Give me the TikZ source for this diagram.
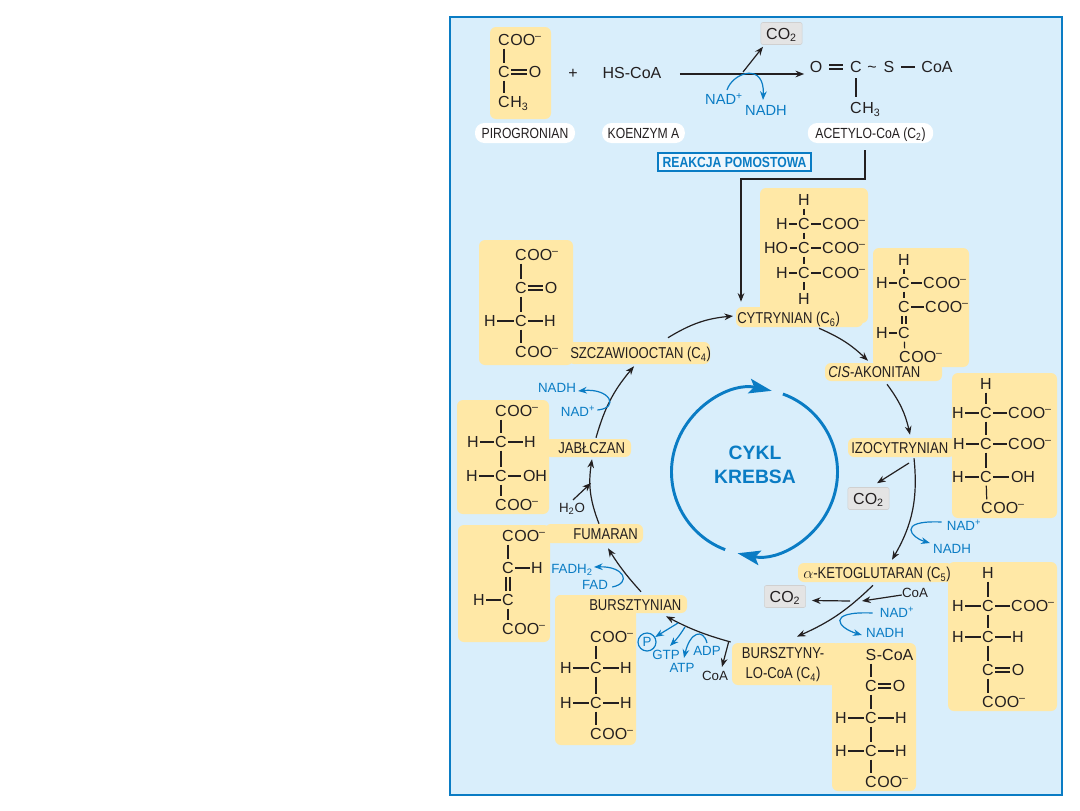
\documentclass[tikz,border=0pt]{standalone}
\usepackage{fontspec}
\setmainfont{Liberation Sans}
\newfontfamily\labelfont[FakeStretch=0.83]{Liberation Sans}
\usetikzlibrary{arrows.meta,calc}
\definecolor{panelblue}{RGB}{217,238,251}
\definecolor{krebsblue}{RGB}{10,124,196}
\definecolor{paleyellow}{RGB}{255,232,166}
\definecolor{inkblack}{RGB}{35,31,32}
\definecolor{boxgrey}{RGB}{228,228,228}
\definecolor{edgegrey}{RGB}{208,208,208}
\tikzset{
  panel/.style={fill=panelblue,draw=krebsblue,line width=1.5pt},
  yellowbox/.style={fill=paleyellow,rounded corners=4.5pt},
  atom/.style={font=\fontsize{12}{14}\selectfont,text=inkblack,inner xsep=1pt,inner ysep=2pt,
    text height=8.6pt,text depth=0pt},
  atomtail/.style={atom,anchor=west,inner xsep=0pt},
  bond/.style={draw=inkblack,line width=.9pt},
  heavybond/.style={draw=inkblack,line width=1.5pt},
  dbond/.style={draw=inkblack,line width=1.1pt,double=paleyellow,double distance=1.8pt},
  metabolite/.style={font=\labelfont\fontsize{11.8}{15}\selectfont,text=inkblack,anchor=west,inner sep=0pt,
    text height=8.4pt,text depth=0pt,minimum height=12pt},
  namepill/.style={font=\labelfont\fontsize{11}{13}\selectfont,text=inkblack,fill=white,rounded corners=7pt,
    inner sep=0pt,text height=8pt,text depth=0pt,minimum height=15pt},
  cofactor/.style={font=\fontsize{10}{12}\selectfont,text=krebsblue,inner sep=0pt,
    text height=7.2pt,text depth=0pt},
  cotwo/.style={font=\fontsize{12}{14}\selectfont,text=inkblack,fill=boxgrey,draw=edgegrey,
    rounded corners=1.5pt,inner sep=0pt,minimum width=31pt,minimum height=16.5pt,
    text height=8.6pt,text depth=0pt},
  flow/.style={-{Stealth[length=6.5pt,width=5pt]},draw=inkblack,line width=.9pt},
  blueflow/.style={-{Stealth[length=6.5pt,width=5pt]},draw=krebsblue,line width=.9pt},
  krebsarc/.style={-{Stealth[length=17pt,width=11pt,inset=3.5pt]},draw=krebsblue,line width=2.2pt}
}
\newcommand{\chemgroup}[5]{
  \node[atom] (#1) at (#2,#3) {#4};
  \node[atomtail] (#1t) at ([xshift=-1pt]#1.east) {#5};
}
\begin{document}
\begin{tikzpicture}[x=.75pt,y=-.75pt]
  \useasboundingbox (0,0) rectangle (1080,810);
  \draw[panel] (450,17) rectangle (1062,795);

  % yellow backings of formulas and names
  \foreach \xa/\ya/\xb/\yb in {490/27/551/119, 760/188/868/323, 736/307/863/327, 873/248/969/367,
      825/363/942/381, 952/373/1057/518, 848/438/955/457, 948/562/1057/711, 798/563/953/582,
      832/643/916/791, 732/643/840/685, 555/595/636/745, 555/595/687/613, 458/525/550/642,
      545/524/643/543, 457/400/549/514, 545/439/631/457, 479/240/573/365, 568/342/710/364}
    \fill[yellowbox] (\xa,\ya) rectangle (\xb,\yb);

  % single atoms
  \foreach \nd/\px/\py/\txt in {pb/504/72/C, pc/535/72/O,
      cia/804/200/H, cib/782/224/H, cic/804/224/C, cie/776/248/HO, cif/804/248/C, cih/782/273/H, cii/804/273/C, cik/804/299/H,
      aca/904/260/H, acb/882/283/H, acc/904/283/C, ace/904/307/C, acg/882/333/H, ach/904/333/C,
      isa/986/384/H, isb/958/413/H, isc/986/413/C, ise/959/444/H, isf/986/444/C, ish/958/477/H, isi/986/477/C, isj/1023/477/OH,
      kea/988/573/H, keb/958/606/H, kec/988/606/C, kee/958/637/H, kef/988/637/C, keg/1018/637/H, keh/988/670/C, kei/1018/670/O,
      scb/871/686/C, scc/899/686/O, scd/841/718/H, sce/871/718/C, scf/901/718/H, scg/841/751/H, sch/871/751/C, sci/901/751/H,
      sub/566/668/H, suc/596/668/C, sud/626/668/H, sue/566/703/H, suf/596/703/C, sug/626/703/H,
      fub/508/568/C, fuc/537/568/H, fud/479/600/H, fue/508/600/C,
      mab/473/442/H, mac/501/442/C, mad/530/442/H, mae/472/476/H, maf/501/476/C, mag/535/476/OH,
      oxb/521/288/C, oxc/551/288/O, oxd/490/321/H, oxe/521/321/C, oxf/550/321/H,
      ao/816/67/O, ac/856/67/C, as/889/67/S, at/872/67/\textasciitilde, ad/937/67/CoA, hs/632/73/HS-CoA, plus/573/73/+}
    \node[atom] (\nd) at (\px,\py) {\txt};

  % carboxylate groups
  \foreach \nd/\px/\py in {pa/504/40, cid/828/224, cig/828/248, cij/828/273, acd/929/283, acf/931/307, aci/905/357,
      isd/1014/413, isg/1014/444, isk/987/508, ked/1017/606, kej/988/702, scj/871/782, sua/596/637, suh/596/734,
      fua/508/536, fuf/508/629, maa/501/411, mah/501/505, oxa/521/255, oxg/521/352}
    \chemgroup{\nd}{\px}{\py}{C}{OO\textsuperscript{--}};
  \chemgroup{pd}{504}{102}{C}{H\textsubscript{3}}
  \chemgroup{ae}{856}{108}{C}{H\textsubscript{3}}
  \chemgroup{sca}{871}{655}{S}{-CoA}

  % bonds
  \foreach \nda/\ndb in {pa/pb, pb/pd,
      cia/cic, cib/cic, cic/cid, cic/cif, cie/cif, cif/cig, cif/cii, cih/cii, cik/cii,
      aca/acc, acb/acc, acc/acd, ace/acf, acg/ach, ach/aci,
      isb/isc, isc/isd, ise/isf, isf/isg, isf/isi, ish/isi, isi/isj, isi/isk,
      kea/kec, keb/kec, kec/ked, kec/kef, keh/kej, kef/keh,
      scb/sce, scd/sce, sce/scf, scg/sch, sch/sci, sch/scj,
      sua/suc, sub/suc, suc/sud, suc/suf, sue/suf, suf/sug, suf/suh,
      fua/fub, fud/fue, fue/fuf,
      mab/mac, mac/mad, mac/maf, mae/maf, maf/mag,
      oxa/oxb, oxb/oxe, oxd/oxe, oxe/oxf, oxe/oxg}
    \draw[bond] (\nda) -- (\ndb);
  \foreach \nda/\ndb in {cii/cij, acc/ace, isa/isc, isc/isf, kee/kef, kef/keg,
      sca/scb, sce/sch, fub/fuc, maa/mac, maf/mah}
    \draw[heavybond] (\nda) -- (\ndb);
  \foreach \nda/\ndb in {pb/pc, ace/ach, keh/kei, scb/scc, fub/fue, oxb/oxc}
    \draw[dbond] (\nda) -- (\ndb);
  \draw[dbond,double=panelblue,shorten <=4pt,shorten >=4pt] (ao) -- (ac);
  \draw[heavybond,shorten <=4pt,shorten >=4pt] (as) -- (ad);
  \draw[bond,shorten <=2pt,shorten >=2pt] (ac) -- (ae);

  % names
  \node[namepill,minimum width=75pt] (pirogronian) at (525,133) {PIROGRONIAN};
  \node[namepill,minimum width=62pt] (koenzym) at (643.5,133) {KOENZYM A};
  \node[namepill,minimum width=94pt] (acetylo) at (870.5,133) {ACETYLO-CoA (C\textsubscript{2})};
  \node[draw=krebsblue,line width=1.5pt,fill=panelblue!45!white,text=krebsblue,inner sep=0pt,
    minimum width=115pt,minimum height=14pt,font=\labelfont\bfseries\fontsize{11}{13}\selectfont] (pomost) at (734.5,162) {REAKCJA POMOSTOWA};

  \node[metabolite] (cytrynian) at (737,318) {CYTRYNIAN (C\textsubscript{6})};
  \node[metabolite] (cisakon) at (828,372) {\textit{CIS}-AKONITAN};
  \node[metabolite] (izocyt) at (851,448) {IZOCYTRYNIAN};
  \node[metabolite] (ketoglu) at (803,573) {$\alpha$-KETOGLUTARAN (C\textsubscript{5})};
  \node[metabolite,anchor=center,align=center,text height=,text depth=] (bursztcoa) at (783,665) {BURSZTYNY-\\LO-CoA (C\textsubscript{4})};
  \node[metabolite] (bursztyn) at (589,605) {BURSZTYNIAN};
  \node[metabolite] (fumaran) at (573,534) {FUMARAN};
  \node[metabolite] (jablczan) at (558,448) {JABŁCZAN};
  \node[metabolite] (szczaw) at (570,353) {SZCZAWIOOCTAN (C\textsubscript{4})};

  % cofactors
  \node[cofactor,font=\fontsize{11}{13}\selectfont] (nadtop) at (724,100) {NAD\textsuperscript{+}};
  \node[cofactor,font=\fontsize{11}{13}\selectfont] (nadhtop) at (766,111) {NADH};
  \node[cofactor] (nadma) at (578,412) {NAD\textsuperscript{+}};
  \node[cofactor] (nadhma) at (557,388) {NADH};
  \node[cofactor] (fad) at (595,585) {FAD};
  \node[cofactor] (fadh) at (572,569) {FADH\textsubscript{2}};
  \node[cofactor] (gtp) at (666,655) {GTP};
  \node[cofactor] (atp) at (682,668) {ATP};
  \node[cofactor] (adp) at (707,651) {ADP};
  \node[cofactor,circle,draw=krebsblue,line width=.9pt,minimum size=13.5pt] (pgrp) at (647,642) {P};
  \node[cofactor] (nadke) at (897,613) {NAD\textsuperscript{+}};
  \node[cofactor] (nadhke) at (885,633) {NADH};
  \node[cofactor] (nadiz) at (964,526) {NAD\textsuperscript{+}};
  \node[cofactor] (nadhiz) at (952,549) {NADH};
  \node[cofactor,text=inkblack] (coasu) at (715,676) {CoA};
  \node[cofactor,text=inkblack] (coake) at (915,593) {CoA};
  \node[cofactor,text=inkblack] (water) at (572,508) {H\textsubscript{2}O};
  \node[cotwo] (cotop) at (781.5,33.5) {CO\textsubscript{2}};
  \node[cotwo] (coiz) at (868.5,498.5) {CO\textsubscript{2}};
  \node[cotwo] (coke) at (785,596.5) {CO\textsubscript{2}};

  % free ends of the side arrows
  \coordinate (splittop) at (743,72);
  \coordinate (offiz) at (909,463);
  \coordinate (offke) at (850,601);
  \coordinate (inke) at (862,601);
  \coordinate (inma) at (591,483);
  \coordinate (offp) at (678,623);
  \coordinate (offgtp) at (685,627);
  \coordinate (bridgetop) at (741,179);

  % bridge reaction
  \draw[flow,line width=1.6pt] ($(hs.east)+(17,1)$) -- ($(ao.west)+(-4,7)$);
  \draw[flow] (splittop) -- ($(cotop.south)+(-18.5,2)$);
  \draw[blueflow] ($(nadtop.north)+(3,-5)$) .. controls (733,72) and (765,62) .. ($(nadhtop.north)+(-3,-6)$);
  \draw[flow] ($(acetylo.south)+(-5.5,7)$) |- (bridgetop) -- ($(cytrynian.north west)+(4,-8)$);

  % the cycle
  \draw[flow] ($(szczaw.north west)+(98,-7)$) to[bend left=13] ($(cytrynian.west)+(-4,-2)$);
  \draw[flow] ($(cytrynian.south west)+(82,2)$) to[bend left=10] ($(cisakon.north west)+(40,-3)$);
  \draw[flow] ($(cisakon.south west)+(59,4)$) to[bend left=12] ($(izocyt.north west)+(59,-5)$);
  \draw[flow] ($(izocyt.south west)+(63,2)$) to[bend left=18] ($(ketoglu.north west)+(89,-5)$);
  \draw[flow] ($(ketoglu.south west)+(70,4)$) to[bend left=10] ($(bursztcoa.north)+(14,-11)$);
  \draw[flow] ($(bursztcoa.west)+(-11,-23)$) to[bend left=6] ($(bursztyn.south west)+(77,3)$);
  \draw[flow] ($(bursztyn.north west)+(52,-5)$) to[bend left=5] ($(fumaran.south west)+(35,6)$);
  \draw[flow] ($(fumaran.north west)+(26,-2)$) to[bend left=15] ($(jablczan.south west)+(34,3)$);
  \draw[flow] ($(jablczan.north west)+(38,-2)$) to[bend left=12] ($(szczaw.south west)+(64,5)$);

  % side reactions of the cycle
  \draw[flow] ($(water.north)+(1,-3)$) -- (inma);
  \draw[blueflow] ($(nadma.east)+(2,-2)$) .. controls (620,408) and (610,388) .. ($(nadhma.east)+(2,3)$);
  \draw[blueflow] ($(fad.east)+(4,2)$) .. controls (632,583) and (624,566) .. ($(fadh.east)+(1,-2)$);
  \draw[blueflow] (offp) -- (pgrp);
  \draw[blueflow] (offgtp) to[bend left=6] ($(gtp.north)+(4,-4)$);
  \draw[blueflow] ($(adp.north)+(0,-3)$) .. controls (703,628) and (690,632) .. ($(atp.north)+(2,-5)$);
  \draw[flow] ($(bursztcoa.west)+(-13,-23)$) -- ($(coasu.north)+(7,-4)$);
  \draw[flow] (offke) -- ($(coke.east)+(6,4)$);
  \draw[flow] (coake) -- (inke);
  \draw[blueflow] ($(nadke.west)+(-7,0)$) .. controls (825,611) and (838,628) .. ($(nadhke.west)+(-4,2)$);
  \draw[flow] (offiz) -- ($(coiz.north)+(8.5,-4)$);
  \draw[blueflow] ($(nadiz.west)+(-5,-4)$) .. controls (895,520) and (912,538) .. ($(nadhiz.west)+(-3,-6)$);

  % central cycle arrow
  \coordinate (hub) at (754.5,472);
  \node[font=\bfseries\fontsize{14.5}{18}\selectfont,text=krebsblue,align=center,inner sep=0pt] (krebs) at (755,465) {CYKL\\KREBSA};
  \draw[krebsarc] ($(hub)+(110.7:83)$) arc (110.7:282:83);
  \draw[krebsarc] ($(hub)+(-70:83)$) arc (-70:101.8:83);
\end{tikzpicture}
\end{document}
